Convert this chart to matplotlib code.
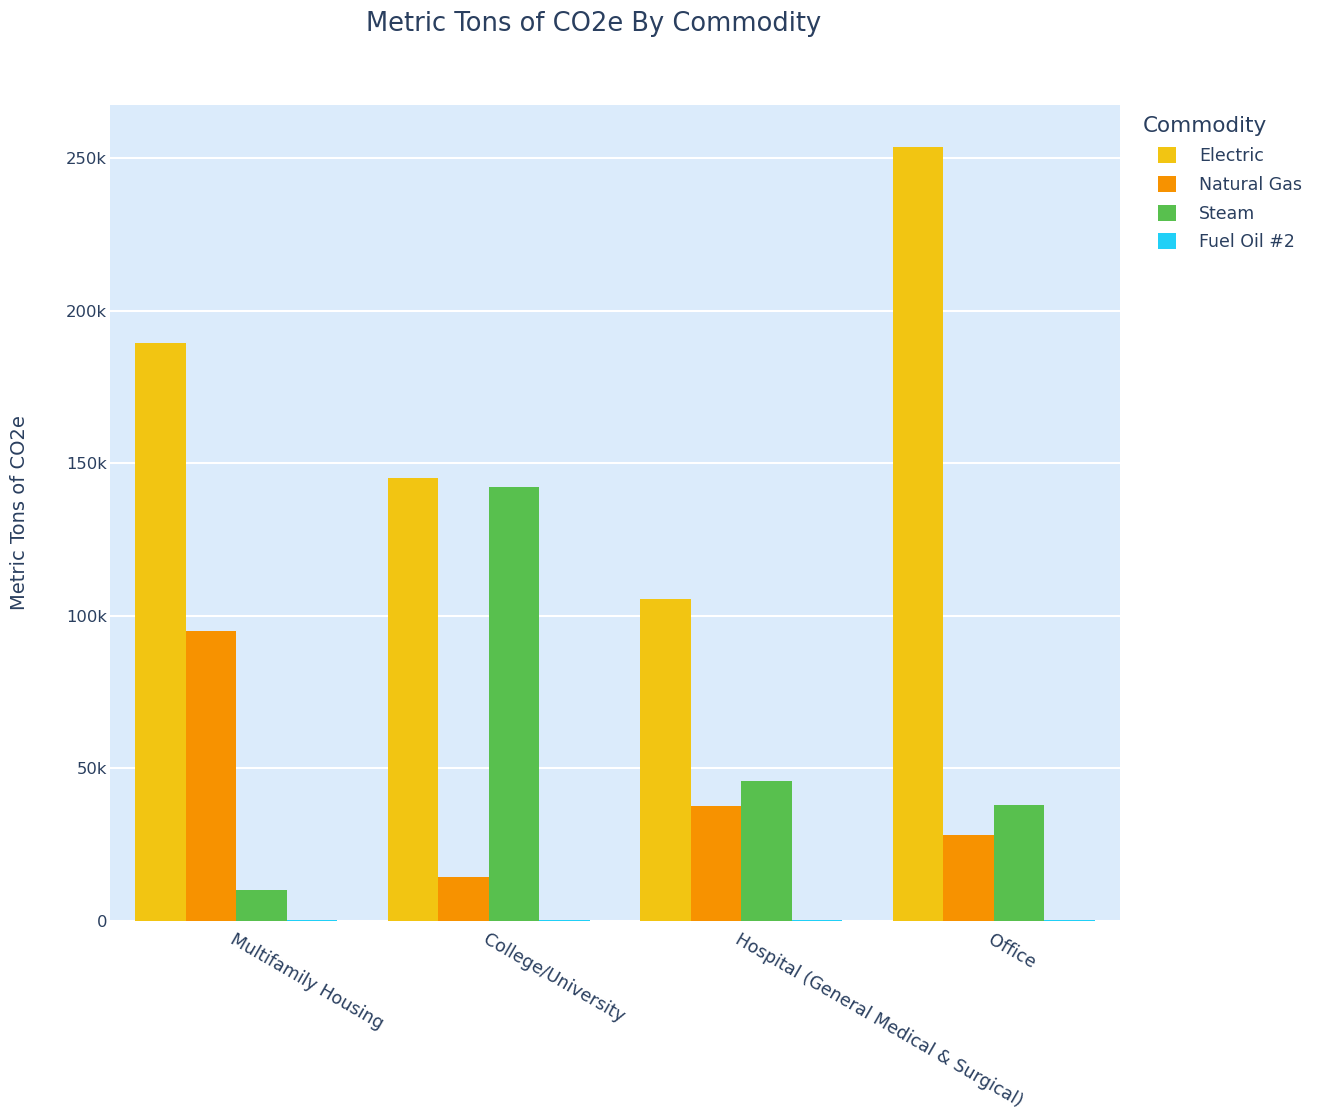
import matplotlib
matplotlib.use("Agg")
import matplotlib.pyplot as plt
import numpy as np
from matplotlib.patches import Patch

categories = ["Multifamily Housing", "College/University",
              "Hospital (General Medical & Surgical)", "Office"]
series_names = ["Electric", "Natural Gas", "Steam", "Fuel Oil #2"]
electric = [189400, 145200, 105500, 253600]
natural_gas = [95000, 14400, 37700, 28200]
steam = [10200, 142200, 45900, 38000]
fuel_oil = [300, 300, 300, 300]
colors = ["#F2C512", "#F79200", "#58C04E", "#21D0F7"]
yticks = [0, 50000, 100000, 150000, 200000, 250000]
ytick_labels = ["0", "50k", "100k", "150k", "200k", "250k"]

TEXT = "#2A3F5F"
plt.rcParams['font.family'] = ['DejaVu Sans']

fig = plt.figure(figsize=(13.2, 11.11), dpi=100)
ax = fig.add_axes([110/1320, 1 - 921/1111, 1010/1320, 816/1111])
ax.set_facecolor("#DBEBFB")

x = np.arange(len(categories))
width = 0.2
all_series = [electric, natural_gas, steam, fuel_oil]
for i, (vals, col, name) in enumerate(zip(all_series, colors, series_names)):
    ax.bar(x - 0.3 + i * width, vals, width, color=col, label=name, zorder=3)

ax.set_xlim(-0.5, len(categories) - 0.5)
ax.set_ylim(0, 267400)
ax.set_yticks(yticks)
ax.set_yticklabels(ytick_labels, fontsize=11.8, color=TEXT)
ax.yaxis.grid(True, color="white", linewidth=1.5, zorder=0)
ax.tick_params(axis='y', length=0, pad=2)
ax.tick_params(axis='x', length=0, pad=7)
ax.set_xticks(x)
ax.set_xticklabels(categories, fontsize=12.6, color=TEXT, rotation=-30,
                   ha='left', va='top', rotation_mode='anchor')
for s in ax.spines.values():
    s.set_visible(False)

ax.set_ylabel("Metric Tons of CO2e", fontsize=14, color=TEXT)
ax.yaxis.set_label_coords(-0.080, 0.5)
fig.text(594/1320, 1 - 24/1111, "Metric Tons of CO2e By Commodity",
         fontsize=18.5, color=TEXT, ha='center', va='center')

fig.text(1143/1320, 1 - 126/1111, "Commodity", fontsize=15.5, color=TEXT,
         ha='left', va='center')
handles = [Patch(facecolor=c, edgecolor='none') for c in colors]
leg = fig.legend(handles, series_names,
                 loc='upper left', bbox_to_anchor=(1158/1320, 1 - 147/1111),
                 frameon=False, fontsize=12.5,
                 handlelength=1.05, handleheight=1.05, handletextpad=1.3,
                 labelspacing=0.62, borderaxespad=0, borderpad=0)
for t in leg.get_texts():
    t.set_color(TEXT)

fig.savefig("out.png", dpi=100, facecolor="white")
